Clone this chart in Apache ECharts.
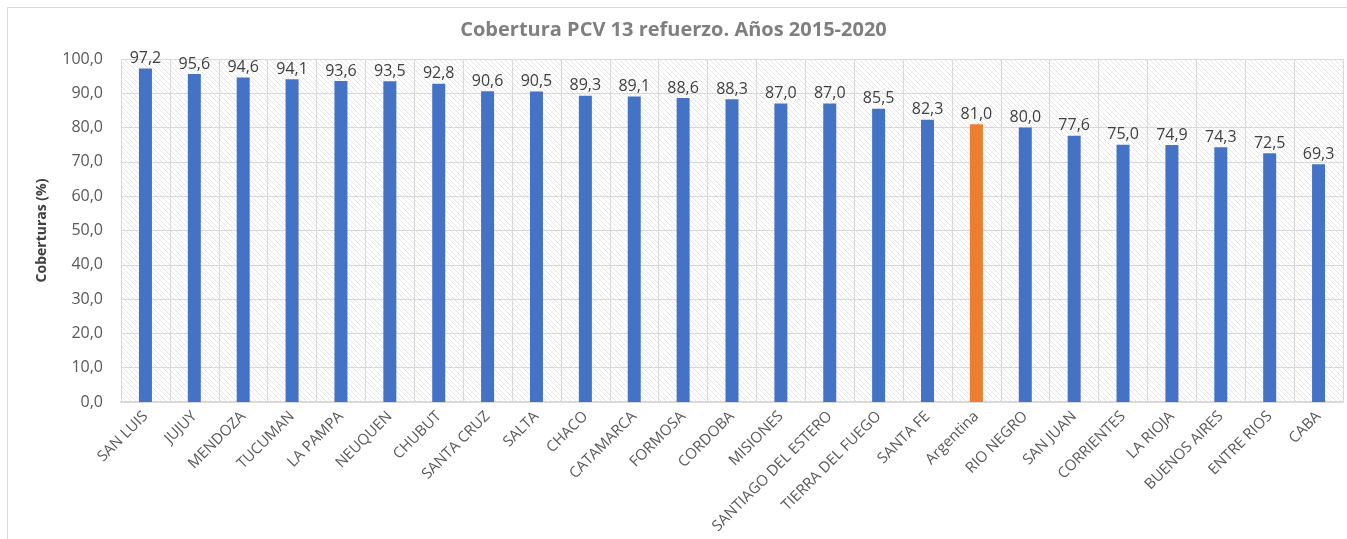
<!DOCTYPE html>
<html>
<head>
<meta charset="utf-8">
<script src="https://cdn.jsdelivr.net/npm/echarts@6/dist/echarts.min.js"></script>
<style>html,body{margin:0;padding:0;background:#fff;}#c{width:1347px;height:539px;}</style>
</head>
<body>
<div id="c"></div>
<script>
const categories = ["SAN LUIS","JUJUY","MENDOZA","TUCUMAN","LA PAMPA","NEUQUEN","CHUBUT","SANTA CRUZ","SALTA","CHACO","CATAMARCA","FORMOSA","CORDOBA","MISIONES","SANTIAGO DEL ESTERO","TIERRA DEL FUEGO","SANTA FE","Argentina","RIO NEGRO","SAN JUAN","CORRIENTES","LA RIOJA","BUENOS AIRES","ENTRE RIOS","CABA"];
const values = [97.2,95.6,94.6,94.1,93.6,93.5,92.8,90.6,90.5,89.3,89.1,88.6,88.3,87.0,87.0,85.5,82.3,81.0,80.0,77.6,75.0,74.9,74.3,72.5,69.3];
const highlight = "Argentina";
const title = "Cobertura PCV 13 refuerzo. Años 2015-2020";
const yTitle = "Coberturas (%)";

const FONT = "Open Sans";
function fmt(v){ return v.toFixed(1).replace('.', ','); }

// hatch pattern
const pc = document.createElement('canvas');
pc.width = 5; pc.height = 5;
const px = pc.getContext('2d');
px.fillStyle = '#ffffff'; px.fillRect(0,0,5,5);
px.strokeStyle = '#e6e6e6'; px.lineWidth = 1;
px.beginPath(); px.moveTo(-1,-1); px.lineTo(6,6); px.stroke();
px.beginPath(); px.moveTo(-6,-1); px.lineTo(1,6); px.stroke();
px.beginPath(); px.moveTo(4,-1); px.lineTo(11,6); px.stroke();

const chart = echarts.init(document.getElementById('c'), null, {renderer:'canvas'});
chart.setOption({
  animation: false,
  backgroundColor: '#ffffff',
  title: {
    text: title, left: 'center', top: 15,
    textStyle: {fontFamily: FONT, fontSize: 20, fontWeight: 'bold', color: '#7f7f7f'}
  },
  graphic: [{
    type: 'rect', shape: {x: 7.5, y: 7.5, width: 1360, height: 560},
    style: {fill: 'none', stroke: '#d9d9d9', lineWidth: 1}, silent: true
  }],
  grid: {
    left: 121, right: 4, top: 59, bottom: 137,
    containLabel: false, outerBoundsMode: 'none',
    show: true, borderWidth: 0,
    backgroundColor: {image: pc, repeat: 'repeat'}
  },
  xAxis: {
    type: 'category', data: categories,
    axisLine: {show: true, lineStyle: {color: '#d9d9d9', width: 2}},
    axisTick: {show: false},
    splitLine: {show: true, lineStyle: {color: '#d9d9d9', width: 1}},
    axisLabel: {
      rotate: 45, interval: 0, margin: 12,
      fontFamily: FONT, fontSize: 15, color: '#595959'
    }
  },
  yAxis: {
    type: 'value', min: 0, max: 100, interval: 10,
    name: yTitle, nameLocation: 'middle', nameGap: 72, nameRotate: 90,
    nameTextStyle: {fontFamily: FONT, fontSize: 14, fontWeight: 'bold', color: '#404040'},
    axisLine: {show: false}, axisTick: {show: false},
    splitLine: {lineStyle: {color: '#d9d9d9', width: 1}},
    axisLabel: {
      formatter: v => fmt(v), margin: 18,
      fontFamily: FONT, fontSize: 16, color: '#595959'
    }
  },
  series: [{
    type: 'bar', barWidth: 13,
    data: values.map((v, i) => ({
      value: v,
      itemStyle: {color: categories[i] === highlight ? '#ED7D31' : '#4472C4'}
    })),
    label: {
      show: true, position: 'top', distance: 2,
      formatter: p => fmt(p.value),
      fontFamily: FONT, fontSize: 16, color: '#404040'
    }
  }]
});
</script>
</body>
</html>
